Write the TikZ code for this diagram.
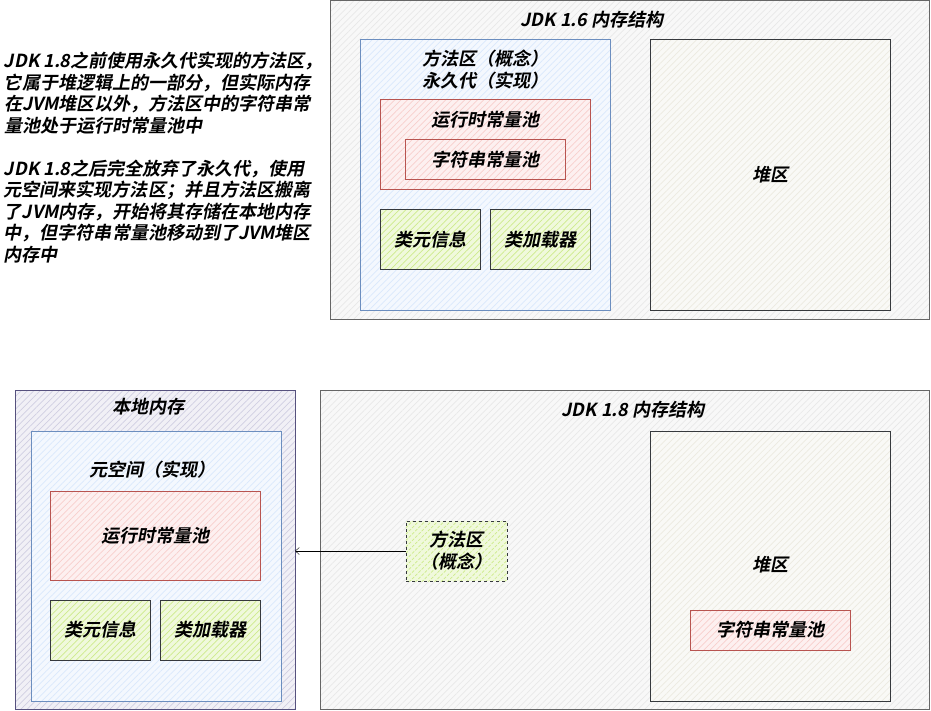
\documentclass[tikz,border=0pt]{standalone}
\usepackage{fontspec}
\setmainfont{Noto Sans CJK SC}[BoldFont={* Bold}, ItalicFont={*}, ItalicFeatures={FakeSlant=0.2}, BoldItalicFont={* Bold}, BoldItalicFeatures={FakeSlant=0.2}]
\usetikzlibrary{patterns.meta,arrows.meta}

\definecolor{blueline}{HTML}{6C8EBF}
\definecolor{bluefill}{HTML}{DAE8FC}
\definecolor{redline}{HTML}{B85450}
\definecolor{redfill}{HTML}{F8CECC}
\definecolor{greenfill}{HTML}{CDEB8B}
\definecolor{darkline}{HTML}{36393D}
\definecolor{grayline}{HTML}{666666}
\definecolor{grayfill}{HTML}{E8E8E8}
\definecolor{heapfill}{HTML}{ECEAE0}
\definecolor{purpleline}{HTML}{56517E}
\definecolor{purplefill}{HTML}{D0CEE2}

\tikzset{
  hatch/.style 2 args={preaction={fill=#1!30!white}, pattern={Lines[angle=45,distance=4.5pt,line width=0.7pt]}, pattern color=#1, draw=#2, line width=1pt},
  frame/.style={rectangle, hatch={grayfill}{grayline}},
  heap/.style={rectangle, hatch={heapfill}{darkline}},
  area/.style={rectangle, hatch={bluefill}{blueline}},
  pool/.style={rectangle, hatch={redfill}{redline}},
  part/.style={rectangle, hatch={greenfill}{darkline}},
  txt/.style={font=\fontsize{18}{22}\selectfont\bfseries\itshape, align=center, inner sep=0pt}
}

\begin{document}
\begin{tikzpicture}[x=1pt, y=-1pt, every node/.style={outer sep=0pt}]
    \useasboundingbox (0,0) rectangle (931,711);

    \node[txt, align=left, anchor=north west, font=\fontsize{18}{21.5}\selectfont\bfseries\itshape] (note) at (4,52)
      {JDK 1.8之前使用永久代实现的方法区，\\它属于堆逻辑上的一部分，但实际内存\\在JVM堆区以外，方法区中的字符串常\\量池处于运行时常量池中\\[21.5pt]JDK 1.8之后完全放弃了永久代，使用\\元空间来实现方法区；并且方法区搬离\\了JVM内存，开始将其存储在本地内存\\中，但字符串常量池移动到了JVM堆区\\内存中};

    \node[frame, minimum width=599, minimum height=319] (jdk16) at (630,160) {};
    \node[txt] (t16) at (592,20) {JDK 1.6 内存结构};
    \node[area, minimum width=250, minimum height=270] (pg) at (485,175) {};
    \node[txt] (pglbl) at (485,70) {方法区（概念）\\永久代（实现）};
    \node[pool, minimum width=210, minimum height=90] (rt16) at (485,145) {};
    \node[txt] (rt16lbl) at (485,120) {运行时常量池};
    \node[pool, minimum width=160, minimum height=40, txt] (sp16) at (485,160) {字符串常量池};
    \node[part, minimum width=100, minimum height=60, txt] (cm16) at (430,240) {类元信息};
    \node[part, minimum width=100, minimum height=60, txt] (cl16) at (540,240) {类加载器};
    \node[heap, minimum width=240, minimum height=270, txt] (hp16) at (770,175) {堆区};

    \node[rectangle, hatch={purplefill}{purpleline}, minimum width=280, minimum height=319] (native) at (155,550) {};
    \node[txt] (nativelbl) at (148,407) {本地内存};
    \node[area, minimum width=250, minimum height=270] (meta) at (156,566) {};
    \node[txt] (metalbl) at (152,470) {元空间（实现）};
    \node[pool, minimum width=210, minimum height=89, txt] (rt18) at (155,535.5) {运行时常量池};
    \node[part, minimum width=100, minimum height=60, txt] (cm18) at (100,630) {类元信息};
    \node[part, minimum width=100, minimum height=60, txt] (cl18) at (210,630) {类加载器};

    \node[frame, minimum width=609, minimum height=319] (jdk18) at (625,550) {};
    \node[txt] (t18) at (633,410) {JDK 1.8 内存结构};
    \node[part, dashed, minimum width=101, minimum height=60, txt] (ma) at (456.5,551) {方法区\\（概念）};
    \node[heap, minimum width=240, minimum height=270] (hp18) at (770,566) {};
    \node[txt] (hp18lbl) at (770,565) {堆区};
    \node[pool, minimum width=160, minimum height=40, txt] (sp18) at (770,630) {字符串常量池};

    \draw[-{Straight Barb[length=4pt,width=7pt]}] (ma.west) -- (ma.west -| native.east);
\end{tikzpicture}
\end{document}
